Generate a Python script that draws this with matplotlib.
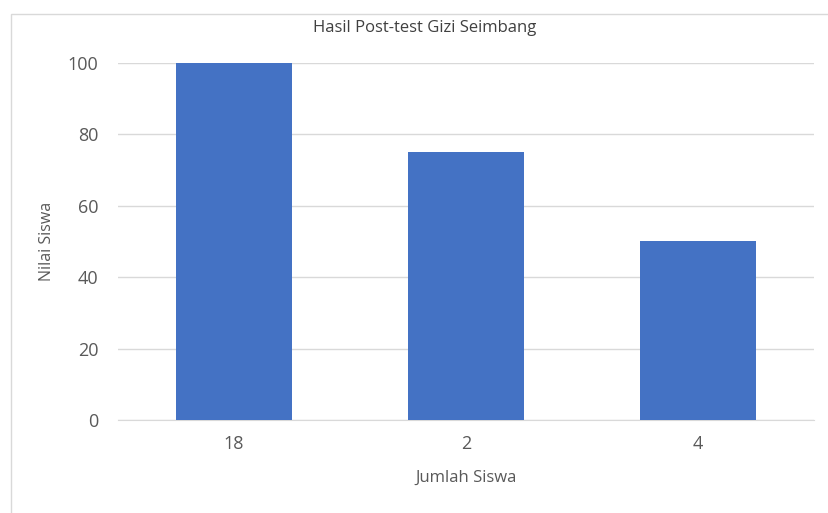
import matplotlib.pyplot as plt
from matplotlib.patches import Rectangle

# --- Data from the chart ---
categories = ['18', '2', '4']
nilai = [100, 75, 50]
y_ticks = [0, 20, 40, 60, 80, 100]

plt.rcParams['font.family'] = ['Open Sans', 'DejaVu Sans']

fig = plt.figure(figsize=(8.29, 5.13), dpi=100)

# chart-area border (light gray frame like Excel)
fig.patches.append(Rectangle((11 / 829, -0.1), 1.2, (513 - 14) / 513 + 0.1,
                             transform=fig.transFigure, fill=False,
                             edgecolor='#D9D9D9', linewidth=1))

ax = fig.add_axes([118 / 829, 93 / 513, 696 / 829, 357 / 513])
x = range(len(categories))
ax.bar(x, nilai, width=0.5, color='#4472C4', zorder=3)

ax.set_xlim(-0.5, 2.5)
ax.set_ylim(0, 100)
ax.set_yticks(y_ticks)
ax.set_xticks(list(x))
ax.set_xticklabels(categories)
ax.grid(axis='y', color='#D9D9D9', linewidth=1, zorder=0)
ax.tick_params(length=0, colors='#595959', labelsize=13, pad=14)
ax.tick_params(axis='x', pad=11)
for s in ['top', 'right', 'left']:
    ax.spines[s].set_visible(False)
ax.spines['bottom'].set_color('#D9D9D9')

fig.text(425 / 829, 1 - 28 / 513, "Hasil Post-test Gizi Seimbang", fontsize=12,
         color='#404040', ha='center', va='center')
ax.set_ylabel("Nilai Siswa", fontsize=11.5, color='#595959', labelpad=9)
ax.set_xlabel("Jumlah Siswa", fontsize=12, color='#595959', labelpad=12)

fig.savefig('out.png', dpi=100)
